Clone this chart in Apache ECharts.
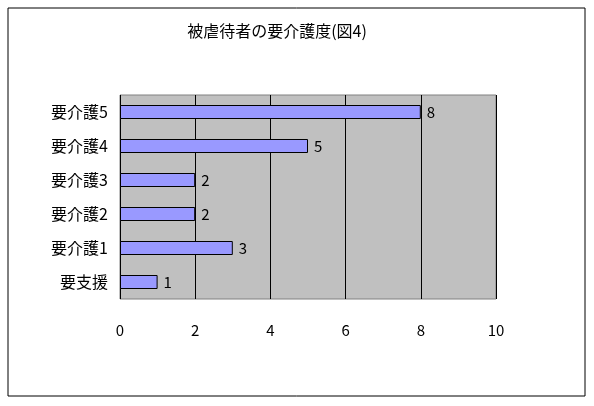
<!DOCTYPE html>
<html>
<head>
<meta charset="utf-8">
<script src="https://cdn.jsdelivr.net/npm/echarts@6/dist/echarts.min.js"></script>
<style>html,body{margin:0;padding:0;background:#fff}#c{width:594px;height:406px}</style>
</head>
<body>
<div id="c"></div>
<script>
var categories = ['要支援', '要介護1', '要介護2', '要介護3', '要介護4', '要介護5'];
var values = [1, 3, 2, 2, 5, 8];
var xTicks = [0, 10, 2];

var chart = echarts.init(document.getElementById('c'));
chart.setOption({
    animation: false,
    textStyle: {fontFamily: 'Noto Sans CJK JP'},
    graphic: [{
        type: 'rect', shape: {x: 8, y: 8, width: 577, height: 388},
        style: {fill: 'none', stroke: '#000', lineWidth: 1}
    }],
    title: {
        text: '被虐待者の要介護度(図4)', left: 272, top: 18, textAlign: 'center',
        textStyle: {fontSize: 16, fontWeight: 'normal', color: '#000'}
    },
    grid: {
        left: 120, right: 98, top: 95, bottom: 107, show: true,
        backgroundColor: '#C0C0C0', borderColor: '#808080', borderWidth: 1
    },
    xAxis: {
        type: 'value', min: xTicks[0], max: xTicks[1], interval: xTicks[2],
        axisLine: {show: false}, axisTick: {show: false},
        axisLabel: {margin: 24, fontSize: 15, color: '#000'},
        splitLine: {lineStyle: {color: '#000', width: 1}}
    },
    yAxis: {
        type: 'category', data: categories,
        axisLine: {show: false}, axisTick: {show: false},
        axisLabel: {margin: 12, fontSize: 16, color: '#000'}
    },
    series: [{
        type: 'bar', data: values, barWidth: 14,
        itemStyle: {color: '#9999FF', borderColor: '#000', borderWidth: 1},
        label: {show: true, position: 'right', distance: 6, fontSize: 15, color: '#000'}
    }]
});
</script>
</body>
</html>
